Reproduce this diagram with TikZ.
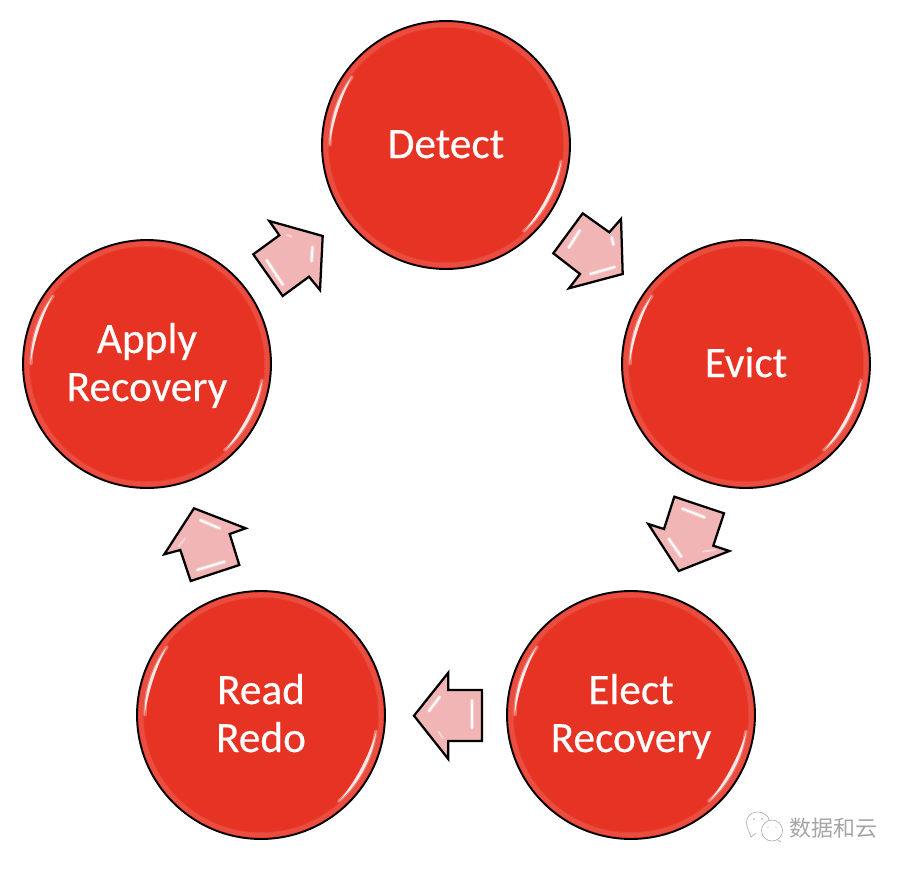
\documentclass[tikz,border=0pt]{standalone}
\usepackage{fontspec}
\setmainfont{Carlito}
\newfontfamily\disctext[FakeBold=.35]{Carlito}
\newfontfamily\cjkwm{Noto Sans CJK SC}
\definecolor{discred}{HTML}{E73323}
\definecolor{arrowpink}{HTML}{F1B5B5}
\definecolor{wmgray}{HTML}{A6A6A6}
\newcommand{\sone}{\vrule width 0pt height 25.5pt depth 6pt\relax}
\tikzset{
  disc/.style={circle,draw=black,line width=1.4pt,fill=discred,minimum size=186pt,inner sep=0pt,
    text=white,align=center,font=\disctext\fontsize{32.5}{36}\selectfont},
  blockarrow/.style={draw=black,line width=1.7pt,fill=arrowpink,line join=miter},
  gleam/.style={draw=white,line width=1.5pt,line cap=round,opacity=.9,
    preaction={draw=white,line width=3pt,opacity=.35}},
  softgleam/.style={draw=white,line width=1.4pt,line cap=round,opacity=.45},
  watermark/.style={text=wmgray,font=\cjkwm\fontsize{16.5}{18}\selectfont,inner sep=0pt},
  wmline/.style={draw=wmgray,line width=.45pt}
}
\newcommand{\discsheen}[1]{%
  \begin{scope}[shift={(#1.center)}]
    \draw[white,opacity=.13,line width=3pt] (0,0) circle[radius=120.5];
    \draw[white,opacity=.08,line width=1.2pt] (0,0) circle[radius=118];
    \draw[white,opacity=.3,line width=2.6pt,line cap=round] (180:116) arc[start angle=180,end angle=216,radius=116];
    \draw[white,opacity=.3,line width=2.6pt,line cap=round] (8:116) arc[start angle=8,end angle=48,radius=116];
    \fill[white,opacity=.85] (180:116.5) arc[start angle=180,end angle=216,radius=116.5]
      .. controls (204:115) and (192:115) .. (180:116.5);
    \fill[white,opacity=.85] (8:116.5) arc[start angle=8,end angle=48,radius=116.5]
      .. controls (35:115.3) and (21:115.3) .. (8:116.5);
  \end{scope}}
\begin{document}
\begin{tikzpicture}[x=.75pt,y=-.75pt]
\useasboundingbox (0,0) rectangle (906,868);
\node[disc] (detect) at (446,145) {\sone Detect};
\node[disc] (evict) at (746,364) {\sone Evict};
\node[disc] (elect) at (631,715) {\sone Elect\\\sone Recovery};
\node[disc] (read) at (261,715) {\sone Read\\\sone Redo};
\node[disc] (apply) at (147,364) {\sone Apply\\\sone Recovery};
\discsheen{detect}\discsheen{evict}\discsheen{elect}\discsheen{read}\discsheen{apply}
% block arrows
\draw[blockarrow] (582.7,213.3)--(609.3,232.3)--(621,219)--(622.7,274)--(569,288.3)--(580,274)--(553.3,253.3)--cycle;
\draw[gleam] (580,230)--(568.5,248);
\draw[gleam] (611.5,237)--(613.5,245);
\draw[gleam] (590,274)--(615,267);
\draw[blockarrow] (674.3,496.7)--(724,513.3)--(713.3,545.7)--(729.3,551)--(678.7,571)--(648.3,524)--(664,529)--cycle;
\draw[gleam] (682,508.5)--(705,517.5);
\draw[gleam] (668.5,538.5)--(681.5,557);
\draw[softgleam] (703,551.5)--(715,550);
\draw[blockarrow] (194,508.3)--(245.7,528.3)--(229.7,534)--(239.3,565)--(190.7,581)--(180.3,550)--(164.3,554.3)--cycle;
\draw[gleam] (200,520)--(220,528.5);
\draw[gleam] (197,570)--(225,561.5);
\draw[softgleam] (185,538.5)--(178.5,546.5);
\draw[blockarrow] (414,715.7)--(448.3,672.7)--(448.3,690)--(482,690)--(482,741)--(448.3,741)--(448.3,759)--cycle;
\draw[gleam] (440,696.5)--(428.5,711.5);
\draw[gleam] (471.5,700)--(471.5,728);
\draw[softgleam] (438.5,731.5)--(443,738);
\draw[blockarrow] (269.3,221)--(322.7,236)--(320,290)--(309,276.7)--(282.7,296)--(253.3,254.3)--(279.3,235.3)--cycle;
\draw[gleam] (266.5,260)--(283,285);
\draw[gleam] (312.5,246.5)--(311.5,261.5);
\draw[softgleam] (287,235)--(291.5,236.5);
% watermark
\node[watermark,anchor=west] (wmtext) at (789,828) {数据和云};
\draw[wmline] (748.5,830.5) .. controls (743,819) and (750,812) .. (757,812) .. controls (765,812) and (769,817) .. (769,820);
\draw[wmline] (748.5,830.5)--(751,837)--(756,833);
\draw[wmline] (772,830.5) circle[radius=10.5];
\draw[wmline] (778,840)--(781,842);
\fill[wmgray] (754,819) circle[radius=.8] (762,819) circle[radius=.8] (768,827) circle[radius=.7] (776,827) circle[radius=.7];
\end{tikzpicture}
\end{document}
